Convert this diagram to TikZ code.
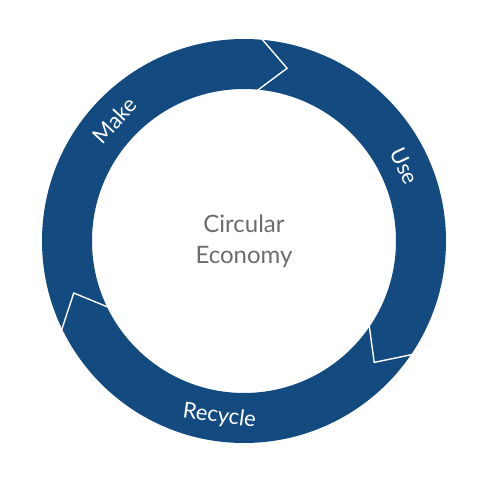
\documentclass[tikz,border=0pt]{standalone}
\usepackage{fontspec}
\setmainfont{Lato}
\definecolor{ringblue}{HTML}{134A80}
\begin{document}
\begin{tikzpicture}[x=1pt,y=1pt,
  sep/.style={white,line width=1.4pt,line join=miter},
  lab/.style={white,font=\fontsize{22}{26}\selectfont,inner sep=0pt},
  ctr/.style={gray!85!black,font=\fontsize{24}{31}\selectfont,align=center}]
\useasboundingbox (0,0) rectangle (480,480);
\coordinate (c) at (244,239);
\fill[ringblue,even odd rule] (c) circle (202) (c) circle (152);
\foreach \a in {85,-34,206}{
  \draw[sep] ([shift={(\a:203)}]c) -- ([shift={(\a-9:178)}]c) -- ([shift={(\a:151)}]c);
}
\node[lab,rotate=47] (make) at ([shift={(137:177)}]c) {Make};
\node[lab,rotate=-65] (use) at ([shift={(25:177)}]c) {Use};
\node[lab,rotate=-8] (rec) at ([shift={(262:177)}]c) {Recycle};
\node[ctr] (ce) at (c) {Circular\\Economy};
\end{tikzpicture}
\end{document}
